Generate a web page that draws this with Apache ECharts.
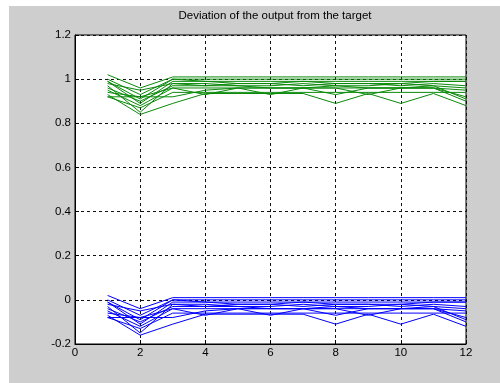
<!DOCTYPE html>
<html>
<head>
<meta charset="utf-8">
<script src="https://cdn.jsdelivr.net/npm/echarts@6/dist/echarts.min.js"></script>
<style>
  html, body { margin: 0; padding: 0; background: #fff; }
  #main { width: 500px; height: 383px; }
</style>
</head>
<body>
<div id="main"></div>
<script>
// 横坐标 1..12
var xs = [1, 2, 3, 4, 5, 6, 7, 8, 9, 10, 11, 12];

// 绿色曲线 (目标 1 附近)
var g1  = [1.02, 0.96, 1.01, 1.01, 1.01, 1.01, 1.01, 1.01, 1.01, 1.01, 1.01, 1.01];
var g2  = [1.00, 0.93, 1.00, 1.00, 1.00, 1.00, 1.00, 1.00, 1.00, 1.00, 1.00, 1.00];
var g3  = [0.99, 0.89, 0.99, 0.99, 0.98, 0.98, 0.99, 0.98, 0.98, 0.98, 0.99, 0.99];
var g4  = [0.98, 0.95, 0.98, 0.97, 0.98, 0.98, 0.97, 0.98, 0.98, 0.97, 0.98, 0.97];
var g5  = [0.97, 0.85, 0.98, 0.98, 0.97, 0.97, 0.98, 0.97, 0.97, 0.98, 0.97, 0.96];
var g6  = [0.96, 0.90, 0.97, 0.97, 0.97, 0.96, 0.96, 0.97, 0.96, 0.96, 0.97, 0.91];
var g7  = [0.95, 0.88, 0.96, 0.96, 0.96, 0.96, 0.96, 0.96, 0.96, 0.96, 0.96, 0.95];
var g8  = [0.94, 0.92, 0.96, 0.93, 0.96, 0.96, 0.96, 0.93, 0.96, 0.96, 0.96, 0.90];
var g9  = [0.93, 0.84, 0.89, 0.935, 0.935, 0.935, 0.935, 0.89, 0.935, 0.89, 0.935, 0.88];
var g10 = [0.92, 0.92, 0.92, 0.95, 0.96, 0.93, 0.96, 0.96, 0.93, 0.96, 0.96, 0.92];
var g11 = [0.92, 0.87, 0.94, 0.94, 0.94, 0.94, 0.94, 0.94, 0.94, 0.94, 0.94, 0.94];
var g12 = [0.99, 0.91, 1.00, 0.99, 0.99, 0.99, 0.99, 0.99, 0.99, 0.99, 0.99, 0.99];

// 蓝色曲线 (目标 0 附近)
var b1  = [0.02, -0.04, 0.01, 0.01, 0.01, 0.01, 0.01, 0.01, 0.01, 0.01, 0.01, 0.01];
var b2  = [0.00, -0.07, 0.00, 0.00, 0.00, 0.00, 0.00, 0.00, 0.00, 0.00, 0.00, 0.00];
var b3  = [-0.01, -0.11, -0.01, -0.01, -0.02, -0.02, -0.01, -0.02, -0.02, -0.02, -0.01, -0.01];
var b4  = [-0.02, -0.05, -0.02, -0.03, -0.02, -0.02, -0.03, -0.02, -0.02, -0.03, -0.02, -0.03];
var b5  = [-0.03, -0.15, -0.02, -0.02, -0.03, -0.03, -0.02, -0.03, -0.03, -0.02, -0.03, -0.04];
var b6  = [-0.04, -0.10, -0.03, -0.03, -0.03, -0.04, -0.04, -0.03, -0.04, -0.04, -0.03, -0.09];
var b7  = [-0.05, -0.12, -0.04, -0.04, -0.04, -0.04, -0.04, -0.04, -0.04, -0.04, -0.04, -0.05];
var b8  = [-0.06, -0.08, -0.04, -0.07, -0.04, -0.04, -0.04, -0.07, -0.04, -0.04, -0.04, -0.10];
var b9  = [-0.07, -0.16, -0.11, -0.065, -0.065, -0.065, -0.065, -0.11, -0.065, -0.11, -0.065, -0.12];
var b10 = [-0.08, -0.08, -0.08, -0.05, -0.04, -0.07, -0.04, -0.04, -0.07, -0.04, -0.04, -0.08];
var b11 = [-0.08, -0.13, -0.06, -0.06, -0.06, -0.06, -0.06, -0.06, -0.06, -0.06, -0.06, -0.06];
var b12 = [-0.01, -0.09, 0.00, -0.01, -0.01, -0.01, -0.01, -0.01, -0.01, -0.01, -0.01, -0.01];

var greens = [g1, g2, g3, g4, g5, g6, g7, g8, g9, g10, g11, g12];
var blues = [b1, b2, b3, b4, b5, b6, b7, b8, b9, b10, b11, b12];

var myChart = echarts.init(document.getElementById('main'));

function makeLine(vals, color) {
    return {
        type: 'line',
        data: xs.map(function (x, i) { return [x, vals[i]]; }),
        showSymbol: false,
        silent: true,
        animation: false,
        lineStyle: { color: color, width: 1 }
    };
}

var series = [];
greens.forEach(function (v) { series.push(makeLine(v, '#0a8a0a')); });
blues.forEach(function (v) { series.push(makeLine(v, '#0000ff')); });

var font = 'Liberation Sans, Arial, sans-serif';
var gridLine = { show: true, lineStyle: { color: '#111', type: [3, 3], width: 1 } };

var option = {
    animation: false,
    backgroundColor: '#fff',
    graphic: [{
        type: 'rect',
        z: -10,
        shape: { x: 9, y: 6, width: 491, height: 377 },
        style: { fill: '#cecece' }
    }],
    title: {
        text: 'Deviation of the output from the target',
        left: 270,
        textAlign: 'center',
        top: 5,
        textStyle: { fontFamily: font, fontSize: 11.5, fontWeight: 'normal', color: '#000' }
    },
    grid: {
        left: 75, right: 34, top: 35, bottom: 39,
        show: true, backgroundColor: '#fff', borderColor: '#000', borderWidth: 1
    },
    xAxis: {
        type: 'value', min: 0, max: 12, interval: 2,
        axisLine: { show: true, onZero: false, lineStyle: { color: '#000' } },
        axisTick: { show: true, inside: true, length: 4, lineStyle: { color: '#000' } },
        axisLabel: { fontFamily: font, fontSize: 11.5, color: '#000', margin: 3 },
        splitLine: gridLine
    },
    yAxis: {
        type: 'value', min: -0.2, max: 1.2, interval: 0.2,
        axisLine: { show: true, onZero: false, lineStyle: { color: '#000' } },
        axisTick: { show: true, inside: true, length: 4, lineStyle: { color: '#000' } },
        axisLabel: {
            fontFamily: font, fontSize: 11.5, color: '#000', margin: 4,
            formatter: function (v) { return String(Math.round(v * 10) / 10); }
        },
        splitLine: gridLine
    },
    series: series
};

myChart.setOption(option);
</script>
</body>
</html>
